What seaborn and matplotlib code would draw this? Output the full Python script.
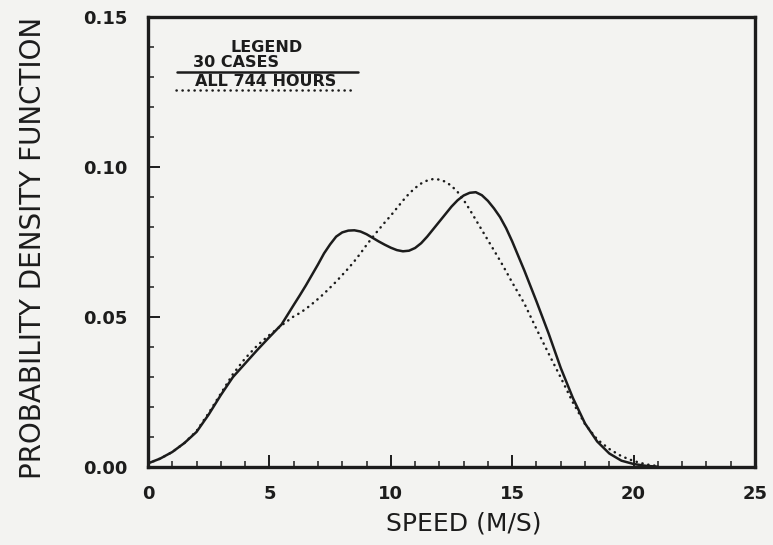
import numpy as np
import pandas as pd
import matplotlib
matplotlib.use("Agg")
import matplotlib.pyplot as plt
import seaborn as sns
from matplotlib.lines import Line2D

# ---- data ----
speed = [0.0, 0.5, 1.0, 1.5, 2.0, 2.5, 3.0, 3.5, 4.0, 4.5, 5.0, 5.5,
         6.0, 6.25, 6.5, 6.75, 7.0, 7.25, 7.5, 7.75, 8.0, 8.25, 8.5, 8.75,
         9.0, 9.25, 9.5, 9.75, 10.0, 10.25, 10.5, 10.75, 11.0, 11.25, 11.5, 11.75,
         12.0, 12.25, 12.5, 12.75, 13.0, 13.25, 13.5, 13.75, 14.0, 14.25, 14.5, 14.75,
         15.0, 15.5, 16.0, 16.5, 17.0, 17.5, 18.0, 18.5, 19.0, 19.5,
         20.0, 20.5, 21.0]

pdf_30_cases = [0.0012, 0.0028, 0.0050, 0.0080, 0.0117, 0.0175, 0.0240, 0.0300,
                0.0345, 0.0390, 0.0433, 0.0475,
                0.0540, 0.0572, 0.0605, 0.0640, 0.0675, 0.0712, 0.0742, 0.0768,
                0.0782, 0.0788, 0.0789, 0.0785, 0.0776, 0.0764, 0.0752, 0.0741,
                0.0731, 0.0723, 0.0719, 0.0721, 0.0730, 0.0746, 0.0768, 0.0793,
                0.0818, 0.0843, 0.0868, 0.0889, 0.0905, 0.0914, 0.0916, 0.0906,
                0.0887, 0.0862, 0.0833, 0.0796,
                0.0752, 0.0655, 0.0552, 0.0445, 0.0330, 0.0230, 0.0145, 0.0085,
                0.0045, 0.0021, 0.0010, 0.0004, 0.0001]

pdf_all_hours = [0.0012, 0.0028, 0.0050, 0.0080, 0.0120, 0.0180, 0.0245, 0.0310,
                 0.0362, 0.0405, 0.0440, 0.0472,
                 0.0502, 0.0513, 0.0527, 0.0543, 0.0560, 0.0578, 0.0598, 0.0618,
                 0.0640, 0.0662, 0.0686, 0.0712, 0.0740, 0.0766, 0.0791, 0.0815,
                 0.0838, 0.0863, 0.0888, 0.0911, 0.0930, 0.0945, 0.0955, 0.0960,
                 0.0958, 0.0951, 0.0937, 0.0917, 0.0890, 0.0858, 0.0824, 0.0790,
                 0.0756, 0.0722, 0.0688, 0.0652,
                 0.0615, 0.0545, 0.0460, 0.0378, 0.0298, 0.0215, 0.0143, 0.0092,
                 0.0060, 0.0036, 0.0020, 0.0009, 0.0003]

series_names = ["30 CASES", "ALL 744 HOURS"]
x_ticks = [0, 5, 10, 15, 20, 25]
y_ticks = [0.00, 0.05, 0.10, 0.15]

df = pd.concat([
    pd.DataFrame({"speed": speed, "pdf": pdf_30_cases, "series": series_names[0]}),
    pd.DataFrame({"speed": speed, "pdf": pdf_all_hours, "series": series_names[1]}),
], ignore_index=True)

# ---- style ----
sns.set_theme(style="ticks")
plt.rcParams["font.family"] = ["DejaVu Sans"]
bg = "#f3f3f1"
ink = "#1c1c1c"

fig = plt.figure(figsize=(7.73, 5.45), dpi=100, facecolor=bg)
ax = fig.add_axes([148 / 773, 1 - 467 / 545, 607 / 773, 450 / 545])
ax.set_facecolor(bg)

sns.lineplot(data=df, x="speed", y="pdf", style="series",
             dashes={series_names[0]: "", series_names[1]: (0.1, 2.3)},
             color=ink, linewidth=1.8, legend=False, estimator=None,
             sort=False, ax=ax)
for ln in ax.lines:
    ln.set_dash_capstyle("round")
    ln.set_solid_capstyle("round")
    ln.set_solid_joinstyle("round")

ax.set_xlim(0, 25)
ax.set_ylim(0, 0.15)
ax.set_xticks(x_ticks)
ax.set_yticks(y_ticks)
ax.set_xticklabels([str(v) for v in x_ticks])
ax.set_yticklabels([f"{v:.2f}" for v in y_ticks])
ax.set_xticks(np.arange(0, 26, 1), minor=True)
ax.set_yticks(np.arange(0, 0.151, 0.01), minor=True)

for s in ax.spines.values():
    s.set_linewidth(2.4)
    s.set_color(ink)
    s.set_visible(True)

ax.tick_params(axis="both", which="major", direction="in", length=8.5,
               width=1.4, color=ink, labelsize=13, labelcolor=ink)
ax.tick_params(axis="both", which="minor", direction="in", length=4.5,
               width=1.1, color=ink)
ax.tick_params(axis="x", which="major", pad=13)
ax.tick_params(axis="y", which="major", pad=15)
ax.tick_params(top=False, right=False, which="both")
for lab in ax.get_xticklabels() + ax.get_yticklabels():
    lab.set_fontweight("bold")

ax.set_xlabel("SPEED (M/S)", fontsize=18, color=ink)
ax.set_ylabel("PROBABILITY DENSITY FUNCTION", fontsize=20, color=ink)
ax.xaxis.set_label_coords(0.52, -0.10)
ax.yaxis.set_label_coords(-0.166, 0.487)

# ---- hand-drawn style legend ----
tr = ax.transAxes
ax.text(0.196, 0.933, "LEGEND", transform=tr, ha="center", va="center",
        fontsize=11.5, fontweight="bold", color=ink)
ax.text(0.074, 0.898, series_names[0], transform=tr, ha="left", va="center",
        fontsize=11.5, fontweight="bold", color=ink)
ax.add_line(Line2D([0.048, 0.346], [0.878, 0.878], transform=tr, color=ink,
                   linewidth=1.8))
ax.text(0.077, 0.856, series_names[1], transform=tr, ha="left", va="center",
        fontsize=11.5, fontweight="bold", color=ink)
ax.add_line(Line2D([0.046, 0.338], [0.838, 0.838], transform=tr, color=ink,
                   linewidth=1.8, linestyle=(0, (0.1, 2.3)),
                   dash_capstyle="round"))

fig.savefig("out.png", dpi=100, facecolor=bg)
